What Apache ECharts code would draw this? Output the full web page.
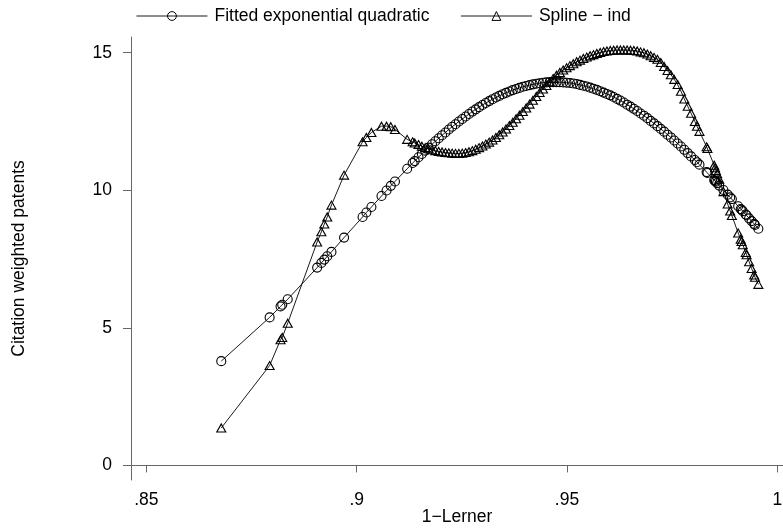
<!DOCTYPE html>
<html>
<head>
<meta charset="utf-8">
<title>Citation weighted patents vs 1-Lerner</title>
<script src="https://cdn.jsdelivr.net/npm/echarts@6/dist/echarts.min.js"></script>
<style>
  html, body { margin: 0; padding: 0; background: #fff; }
  #chart { width: 783px; height: 529px; }
</style>
</head>
<body>
<div id="chart"></div>
<script>
// 1-Lerner for each observation (shared by both series)
const lerner = [
  0.8678, 0.8793, 0.8819, 0.8823, 0.8836, 0.8906, 0.8916, 0.8923, 0.8930, 0.8940,
  0.8970, 0.9014, 0.9023, 0.9035, 0.9059, 0.9071, 0.9081, 0.9091, 0.9120, 0.9133,
  0.9138, 0.9147,
  0.9155, 0.9163, 0.9171, 0.9179, 0.9187, 0.9195, 0.9203, 0.9211, 0.9219, 0.9227,
  0.9235, 0.9243, 0.9251, 0.9259, 0.9267, 0.9275, 0.9283, 0.9291, 0.9299, 0.9307,
  0.9315, 0.9323, 0.9331, 0.9339, 0.9347, 0.9355, 0.9363, 0.9371, 0.9379, 0.9387,
  0.9395, 0.9403, 0.9411, 0.9419, 0.9427, 0.9435, 0.9443, 0.9451, 0.9459, 0.9467,
  0.9475, 0.9483, 0.9491, 0.9499, 0.9507, 0.9515, 0.9523, 0.9531, 0.9539, 0.9547,
  0.9555, 0.9563, 0.9571, 0.9579, 0.9587, 0.9595, 0.9603, 0.9611, 0.9619, 0.9627,
  0.9635, 0.9643, 0.9651, 0.9659, 0.9667, 0.9675, 0.9683, 0.9691, 0.9699, 0.9707,
  0.9715, 0.9723, 0.9731, 0.9739, 0.9747, 0.9755, 0.9763, 0.9771, 0.9779, 0.9787,
  0.9795,
  0.9804, 0.9809, 0.9815, 0.9832, 0.9834, 0.9850, 0.9852, 0.9854, 0.9857, 0.9862,
  0.9872, 0.9882, 0.9888, 0.9892, 0.9907, 0.9913, 0.9915, 0.9918, 0.9925, 0.9927,
  0.9933, 0.9939, 0.9945, 0.9947, 0.9955
];

// Fitted exponential quadratic
const fittedQuad = [
  3.79, 5.38, 5.78, 5.84, 6.04, 7.19, 7.36, 7.48, 7.60, 7.76,
  8.28, 9.03, 9.19, 9.39, 9.79, 9.99, 10.16, 10.32, 10.78, 10.99,
  11.06, 11.20,
  11.32, 11.44, 11.55, 11.67, 11.78, 11.89, 12.00, 12.10, 12.21, 12.31,
  12.40, 12.50, 12.59, 12.68, 12.77, 12.86, 12.94, 13.02, 13.10, 13.17,
  13.24, 13.31, 13.37, 13.43, 13.49, 13.54, 13.59, 13.64, 13.68, 13.72,
  13.76, 13.79, 13.82, 13.85, 13.87, 13.89, 13.91, 13.92, 13.93, 13.93,
  13.93, 13.93, 13.92, 13.91, 13.90, 13.88, 13.86, 13.83, 13.80, 13.77,
  13.73, 13.69, 13.65, 13.60, 13.55, 13.50, 13.45, 13.39, 13.32, 13.26,
  13.19, 13.11, 13.04, 12.96, 12.88, 12.79, 12.71, 12.62, 12.52, 12.43,
  12.33, 12.23, 12.13, 12.02, 11.92, 11.81, 11.70, 11.59, 11.47, 11.35,
  11.23,
  11.10, 11.02, 10.93, 10.66, 10.63, 10.37, 10.34, 10.31, 10.26, 10.17,
  10.01, 9.84, 9.74, 9.68, 9.42, 9.32, 9.29, 9.24, 9.12, 9.09,
  8.98, 8.88, 8.78, 8.74, 8.60
];

// Spline - ind
const splineInd = [
  1.36, 3.63, 4.57, 4.65, 5.17, 8.12, 8.49, 8.77, 9.03, 9.46,
  10.55, 11.76, 11.92, 12.10, 12.33, 12.33, 12.31, 12.21, 11.85, 11.76,
  11.72, 11.66,
  11.60, 11.55, 11.51, 11.47, 11.44, 11.41, 11.39, 11.37, 11.36, 11.35,
  11.34, 11.34, 11.35, 11.37, 11.40, 11.44, 11.49, 11.55, 11.61, 11.68,
  11.75, 11.83, 11.92, 12.02, 12.12, 12.23, 12.35, 12.47, 12.60, 12.73,
  12.86, 12.99, 13.13, 13.27, 13.41, 13.55, 13.68, 13.81, 13.94, 14.06,
  14.18, 14.28, 14.37, 14.45, 14.53, 14.60, 14.67, 14.73, 14.79, 14.84,
  14.89, 14.93, 14.97, 15.01, 15.04, 15.06, 15.08, 15.09, 15.10, 15.10,
  15.10, 15.10, 15.09, 15.08, 15.06, 15.03, 15.00, 14.95, 14.89, 14.83,
  14.76, 14.64, 14.50, 14.35, 14.20, 14.03, 13.84, 13.60, 13.32, 13.05,
  12.80,
  12.50, 12.33, 12.14, 11.58, 11.52, 10.91, 10.82, 10.72, 10.60, 10.40,
  9.95, 9.50, 9.25, 9.08, 8.45, 8.22, 8.14, 8.02, 7.74, 7.66,
  7.40, 7.16, 6.92, 6.84, 6.58
];

// tick values and labels
const xTicks = [0.85, 0.9, 0.95, 1];
const xTickLabels = ['.85', '.9', '.95', '1'];
const yTicks = [0, 5, 10, 15];

const font = '"Liberation Sans", Arial, Helvetica, sans-serif';
const axisGray = '#666';

function tickLabel(v) {
  const i = xTicks.findIndex(t => Math.abs(t - v) < 1e-9);
  return i >= 0 ? xTickLabels[i] : '';
}

const chart = echarts.init(document.getElementById('chart'));

const markerStyle = {
  color: 'rgba(0,0,0,0)',
  borderColor: '#000',
  borderWidth: 1.1
};

chart.setOption({
  animation: false,
  textStyle: { fontFamily: font },
  grid: { left: 131, right: 0, top: 37, bottom: 49, outerBoundsMode: 'none', containLabel: false },
  legend: {
    left: 131,
    top: 2,
    itemWidth: 71,
    itemHeight: 11,
    itemGap: 31,
    selectedMode: false,
    itemStyle: { color: 'rgba(0,0,0,0)', borderColor: '#000', borderWidth: 1 },
    lineStyle: { color: '#000', width: 0.9 },
    textStyle: { fontSize: 17.5, color: '#000', fontFamily: font, padding: [0, 0, 0, 2] },
    data: ['Fitted exponential quadratic', 'Spline \u2212 ind']
  },
  xAxis: {
    type: 'value',
    min: 0.84634,
    max: 1.00136,
    name: '1\u2212Lerner',
    nameLocation: 'middle',
    nameGap: 28,
    nameMoveOverlap: false,
    nameTextStyle: { fontSize: 17.5, color: '#000', fontFamily: font },
    axisLine: { lineStyle: { color: axisGray, width: 1 } },
    axisTick: { customValues: xTicks, length: 7, lineStyle: { color: axisGray } },
    axisLabel: {
      customValues: xTicks,
      formatter: tickLabel,
      margin: 11,
      fontSize: 17.5,
      color: '#000',
      fontFamily: font
    },
    splitLine: { show: false }
  },
  yAxis: {
    type: 'value',
    min: -0.53,
    max: 15.57,
    name: 'Citation weighted patents',
    nameLocation: 'middle',
    nameGap: 103,
    nameMoveOverlap: false,
    nameTextStyle: { fontSize: 17.5, color: '#000', fontFamily: font },
    axisLine: { show: true, lineStyle: { color: axisGray, width: 1 } },
    axisTick: { show: true, customValues: yTicks, length: 8, lineStyle: { color: axisGray } },
    axisLabel: {
      customValues: yTicks,
      margin: 19,
      fontSize: 17.5,
      color: '#000',
      fontFamily: font
    },
    splitLine: { show: false }
  },
  series: [
    {
      name: 'Fitted exponential quadratic',
      type: 'line',
      data: lerner.map((x, i) => [x, fittedQuad[i]]),
      symbol: 'circle',
      symbolSize: 9,
      itemStyle: markerStyle,
      lineStyle: { color: '#000', width: 0.9 },
      emphasis: { disabled: true }
    },
    {
      name: 'Spline \u2212 ind',
      type: 'line',
      data: lerner.map((x, i) => [x, splineInd[i]]),
      symbol: 'triangle',
      symbolSize: [9, 8],
      itemStyle: markerStyle,
      lineStyle: { color: '#000', width: 0.9 },
      emphasis: { disabled: true }
    }
  ]
});
</script>
</body>
</html>
